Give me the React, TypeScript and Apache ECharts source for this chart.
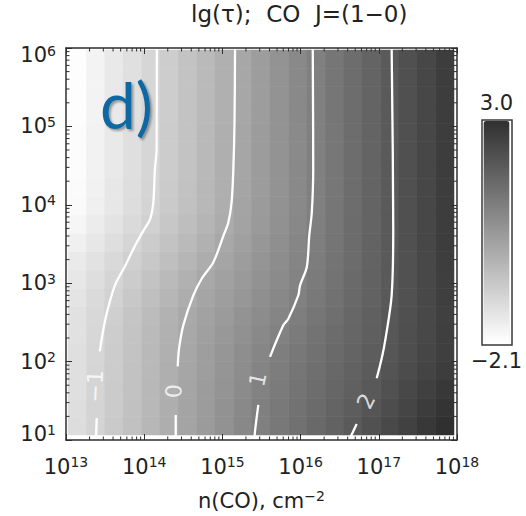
import React, { useEffect, useRef } from 'react';
import * as echarts from 'echarts';

// lg(tau) values, 21 columns (n(CO) 1e13 -> 1e18) per row; row 0 = lowest density (1e1)
const tauRows: number[][] = [
  [-1.27, -1.03, -0.80, -0.57, -0.33, -0.10, 0.13, 0.36, 0.59, 0.82, 1.04, 1.23, 1.41, 1.60, 1.78, 1.97, 2.18, 2.38, 2.59, 2.80, 3.00],
  [-1.28, -1.04, -0.81, -0.57, -0.34, -0.10, 0.13, 0.35, 0.58, 0.80, 1.02, 1.20, 1.37, 1.55, 1.72, 1.90, 2.09, 2.29, 2.49, 2.70, 2.90],
  [-1.30, -1.06, -0.83, -0.59, -0.36, -0.12, 0.11, 0.33, 0.54, 0.76, 0.98, 1.15, 1.32, 1.49, 1.66, 1.82, 1.99, 2.19, 2.40, 2.60, 2.80],
  [-1.31, -1.07, -0.84, -0.60, -0.37, -0.13, 0.09, 0.30, 0.51, 0.72, 0.93, 1.11, 1.28, 1.44, 1.61, 1.77, 1.94, 2.12, 2.31, 2.50, 2.69],
  [-1.31, -1.08, -0.85, -0.61, -0.38, -0.15, 0.07, 0.28, 0.48, 0.68, 0.88, 1.07, 1.23, 1.40, 1.56, 1.73, 1.90, 2.07, 2.26, 2.45, 2.64],
  [-1.35, -1.11, -0.88, -0.64, -0.40, -0.17, 0.05, 0.24, 0.43, 0.62, 0.80, 0.99, 1.16, 1.34, 1.51, 1.68, 1.85, 2.03, 2.23, 2.42, 2.62],
  [-1.37, -1.14, -0.91, -0.68, -0.45, -0.21, 0.01, 0.19, 0.37, 0.55, 0.73, 0.91, 1.09, 1.27, 1.46, 1.64, 1.82, 2.01, 2.21, 2.41, 2.61],
  [-1.43, -1.20, -0.98, -0.75, -0.52, -0.30, -0.07, 0.12, 0.30, 0.47, 0.65, 0.82, 1.00, 1.19, 1.39, 1.59, 1.78, 1.98, 2.19, 2.41, 2.62],
  [-1.50, -1.28, -1.06, -0.84, -0.62, -0.40, -0.18, 0.04, 0.22, 0.40, 0.58, 0.77, 0.95, 1.15, 1.36, 1.56, 1.77, 1.97, 2.19, 2.42, 2.64],
  [-1.59, -1.38, -1.17, -0.95, -0.74, -0.52, -0.31, -0.09, 0.11, 0.31, 0.50, 0.70, 0.90, 1.10, 1.32, 1.53, 1.75, 1.96, 2.19, 2.42, 2.65],
  [-1.73, -1.50, -1.28, -1.06, -0.84, -0.62, -0.40, -0.18, 0.04, 0.25, 0.45, 0.66, 0.87, 1.08, 1.30, 1.52, 1.74, 1.96, 2.20, 2.43, 2.67],
  [-1.87, -1.64, -1.41, -1.19, -0.96, -0.73, -0.51, -0.28, -0.05, 0.17, 0.39, 0.61, 0.84, 1.06, 1.28, 1.51, 1.73, 1.96, 2.20, 2.43, 2.67],
  [-1.97, -1.74, -1.50, -1.27, -1.04, -0.80, -0.57, -0.34, -0.10, 0.13, 0.36, 0.58, 0.81, 1.04, 1.27, 1.50, 1.73, 1.96, 2.20, 2.43, 2.67],
  [-1.99, -1.76, -1.52, -1.29, -1.06, -0.82, -0.59, -0.36, -0.12, 0.11, 0.34, 0.57, 0.80, 1.03, 1.26, 1.50, 1.73, 1.96, 2.20, 2.43, 2.67],
  [-2.02, -1.79, -1.55, -1.31, -1.08, -0.84, -0.61, -0.37, -0.13, 0.10, 0.33, 0.57, 0.80, 1.03, 1.26, 1.50, 1.73, 1.96, 2.20, 2.43, 2.67],
  [-2.03, -1.79, -1.56, -1.32, -1.09, -0.85, -0.62, -0.38, -0.14, 0.09, 0.33, 0.56, 0.79, 1.03, 1.26, 1.50, 1.73, 1.96, 2.20, 2.43, 2.67],
  [-2.03, -1.79, -1.56, -1.32, -1.09, -0.85, -0.62, -0.38, -0.14, 0.09, 0.33, 0.56, 0.79, 1.03, 1.26, 1.50, 1.73, 1.96, 2.20, 2.43, 2.67],
  [-2.04, -1.80, -1.57, -1.33, -1.10, -0.86, -0.63, -0.39, -0.15, 0.08, 0.32, 0.56, 0.80, 1.03, 1.27, 1.50, 1.73, 1.97, 2.21, 2.44, 2.68],
  [-2.04, -1.80, -1.57, -1.33, -1.10, -0.86, -0.63, -0.39, -0.15, 0.08, 0.32, 0.56, 0.80, 1.03, 1.27, 1.50, 1.73, 1.97, 2.21, 2.44, 2.68],
  [-2.04, -1.80, -1.57, -1.33, -1.10, -0.86, -0.63, -0.39, -0.15, 0.08, 0.32, 0.56, 0.80, 1.03, 1.27, 1.50, 1.73, 1.97, 2.21, 2.44, 2.68],
  [-2.05, -1.81, -1.57, -1.33, -1.10, -0.86, -0.63, -0.39, -0.15, 0.08, 0.32, 0.56, 0.80, 1.03, 1.27, 1.50, 1.73, 1.97, 2.21, 2.44, 2.68],
];

const colorbarMin = -2.1;
const colorbarMax = 3.0;
const colorbarTexts = ['3.0', '−2.1'];

// axis extents (powers of ten)
const xExpRange = [13, 18];
const yExpRange = [1, 6];

// contour lines [n(CO) cm^-2, density]
const contourM1Upper = [[1.45e14, 1e6], [1.44e14, 5.08e4], [1.37e14, 2.83e4], [1.31e14, 1.08e4], [1.19e14, 6.56e3], [9.7e13, 4.62e3], [7.6e13, 2.99e3], [5.7e13, 1.66e3], [4.2e13, 927], [3.2e13, 353], [2.7e13, 135]];
const contourM1Lower = [[2.47e13, 19], [2.42e13, 10]];
const contour0Upper = [[1.45e15, 1e6], [1.43e15, 1.22e5], [1.38e15, 2.83e4], [1.31e15, 1.07e4], [1.19e15, 5.96e3], [1.03e15, 4.03e3], [7.66e14, 1.85e3], [5.43e14, 1.14e3], [4.25e14, 698], [3.16e14, 290], [2.79e14, 147], [2.68e14, 86.9]];
const contour0Lower = [[2.53e14, 20.9], [2.53e14, 10]];
const contour1Upper = [[1.43e16, 1e6], [1.45e16, 2.83e4], [1.39e16, 7.98e3], [1.29e16, 4.03e3], [1.2e16, 1.61e3], [9.83e15, 935], [9.35e15, 698], [6.97e15, 353], [6.01e15, 290], [4.06e15, 115]];
const contour1Lower = [[2.88e15, 28.1], [2.61e15, 12.9], [2.57e15, 10]];
const contour2Upper = [[1.46e17, 1e6], [1.53e17, 4.9e3], [1.46e17, 698], [1.22e17, 197], [1.09e17, 110], [9.4e16, 61.2]];
const contour2Lower = [[5.21e16, 16], [4.29e16, 10.6], [4.16e16, 10]];

const contourLabelTexts = ['−1', '0', '1', '2'];
const contourLabelX = [2.35e13, 2.4e14, 2.85e15, 6.86e16];
const contourLabelY = [48.4, 41.9, 59.4, 31.3];
const contourLabelAngle = [88, 89, 78, 64];

const titleText = 'lg(τ);  CO  J=(1−0)';
const panelTag = 'd)';

const FONT = 'DejaVu Sans';
const TEXT = '#222';
const FRAME = '#2e2e2e';

export default function App() {
  const ref = useRef<HTMLDivElement>(null);
  useEffect(() => {
    if (!ref.current) return;
    const chart = echarts.init(ref.current, undefined, { renderer: 'svg' });

    const cells: number[][] = [];
    tauRows.forEach((row, j) => row.forEach((v, i) => cells.push([i, j, v])));
    const nCols = tauRows[0].length;
    const nRows = tauRows.length;

    const minorTicks: number[][] = [];
    for (let e = xExpRange[0]; e < xExpRange[1]; e++)
      for (let m = 2; m <= 9; m++) minorTicks.push([m * Math.pow(10, e), Math.pow(10, yExpRange[0]), 0]);
    for (let e = yExpRange[0]; e < yExpRange[1]; e++)
      for (let m = 2; m <= 9; m++) minorTicks.push([Math.pow(10, xExpRange[0]), m * Math.pow(10, e), 1]);

    const xMin = Math.pow(10, xExpRange[0]);
    const xMax = Math.pow(10, xExpRange[1]);
    const yMin = Math.pow(10, yExpRange[0]);
    const yMax = Math.pow(10, yExpRange[1]);

    const expOf = (v: number) => Math.round(Math.log10(v));
    const pow10 = (v: number) => `{b|10}{s|${expOf(v)}}`;
    const pow10y = (v: number) => {
      const e = expOf(v);
      if (e === yExpRange[1]) return `{bt|10}{st|${e}}`;
      if (e === yExpRange[0]) return `{bb|10}{sb|${e}}`;
      return `{b|10}{s|${e}}`;
    };
    const base = { fontFamily: FONT, color: TEXT };
    const rich = {
      b: { ...base, fontSize: 21 },
      s: { ...base, fontSize: 14, padding: [0, 0, 9, 0] },
      bt: { ...base, fontSize: 21, padding: [14, 0, 0, 0] },
      st: { ...base, fontSize: 14, padding: [14, 0, 9, 0] },
      bb: { ...base, fontSize: 21, padding: [0, 0, 12, 0] },
      sb: { ...base, fontSize: 14, padding: [0, 0, 21, 0] },
    };

    const logAxisBase = (pos: string, fmt: ((v: number) => string) | null, margin = 10) => ({
      type: 'log' as const,
      logBase: 10,
      gridIndex: 0,
      position: pos,
      z: 5,
      axisLine: { show: true, lineStyle: { color: FRAME, width: 1.5 } },
      axisTick: { show: true, inside: true, length: 6, lineStyle: { color: FRAME, width: 1 } },
      splitLine: { show: false },
      minorTick: { show: false },
      axisLabel: fmt ? { show: true, formatter: fmt, rich, margin } : { show: false },
    });

    const contourSeries = (data: number[][]) => ({
      type: 'line',
      xAxisIndex: 0,
      yAxisIndex: 0,
      data,
      symbol: 'none',
      smooth: 0.3,
      z: 3,
      silent: true,
      lineStyle: { color: '#ffffff', width: 2.3 },
    });

    chart.setOption({
      animation: false,
      backgroundColor: '#ffffff',
      grid: [
        { left: 66, top: 48, width: 391, height: 394, show: false },
        { left: 68, top: 50, width: 386, height: 385, show: false },
      ],
      xAxis: [
        {
          ...logAxisBase('bottom', pow10, 15),
          min: xMin,
          max: xMax,
          name: '{a|n(CO), cm}{s|−2}',
          nameLocation: 'middle',
          nameGap: 49,
          nameTextStyle: {
            rich: {
              a: { ...base, fontSize: 21 },
              s: { ...base, fontSize: 14, padding: [0, 0, 9, 0] },
            },
          },
        },
        { ...logAxisBase('top', null), min: xMin, max: xMax },
        {
          type: 'category',
          gridIndex: 1,
          data: Array.from({ length: nCols }, (_, i) => String(i)),
          show: false,
        },
      ],
      yAxis: [
        { ...logAxisBase('left', pow10y), min: yMin, max: yMax },
        { ...logAxisBase('right', null), min: yMin, max: yMax },
        {
          type: 'category',
          gridIndex: 1,
          data: Array.from({ length: nRows }, (_, i) => String(i)),
          show: false,
        },
      ],
      visualMap: {
        type: 'continuous',
        min: colorbarMin,
        max: colorbarMax,
        seriesIndex: 0,
        calculable: false,
        orient: 'vertical',
        left: 471,
        top: 92,
        padding: 0,
        itemWidth: 26,
        itemHeight: 221,
        text: colorbarTexts,
        textGap: 8,
        textStyle: { fontFamily: FONT, fontSize: 21, color: TEXT },
        inRange: { color: ['#ffffff', '#303030'] },
      },
      graphic: [
        {
          type: 'text',
          left: 191,
          top: 2,
          z: 100,
          style: {
            text: titleText,
            fontFamily: FONT,
            fontSize: 23,
            fill: TEXT,
          },
        },
        {
          type: 'rect',
          shape: { x: 482, y: 120, width: 30, height: 225 },
          style: { fill: 'none', stroke: '#3a3a3a', lineWidth: 1.5 },
          z: 100,
        },
        {
          type: 'text',
          left: 100,
          top: 72,
          z: 100,
          style: {
            text: panelTag,
            fontFamily: 'Lato',
            fontSize: 64,
            fill: '#0d67a3',
            textShadowColor: 'rgba(0,0,0,0.35)',
            textShadowOffsetX: 2,
            textShadowOffsetY: 2,
            textShadowBlur: 2,
          },
        },
      ],
      series: [
        {
          type: 'heatmap',
          xAxisIndex: 2,
          yAxisIndex: 2,
          data: cells,
          z: 1,
          silent: true,
          itemStyle: { borderWidth: 0 },
          emphasis: { disabled: true },
        },
        contourSeries(contourM1Upper),
        contourSeries(contourM1Lower),
        contourSeries(contour0Upper),
        contourSeries(contour0Lower),
        contourSeries(contour1Upper),
        contourSeries(contour1Lower),
        contourSeries(contour2Upper),
        contourSeries(contour2Lower),
        {
          type: 'scatter',
          xAxisIndex: 0,
          yAxisIndex: 0,
          symbolSize: 1,
          itemStyle: { color: 'rgba(0,0,0,0)' },
          silent: true,
          z: 4,
          data: contourLabelTexts.map((t, k) => ({
            name: t,
            value: [contourLabelX[k], contourLabelY[k]],
            label: { rotate: contourLabelAngle[k] },
          })),
          label: {
            show: true,
            position: 'inside',
            formatter: (p: any) => p.name,
            color: '#ffffff',
            fontFamily: FONT,
            fontSize: 22,
          },
        },
        {
          type: 'custom',
          xAxisIndex: 0,
          yAxisIndex: 0,
          z: 6,
          silent: true,
          data: minorTicks,
          renderItem: (params: any, api: any) => {
            const kind = api.value(2);
            const L = 3.5;
            const st = { stroke: FRAME, lineWidth: 1 };
            if (kind === 0) {
              const v = api.value(0);
              const b = api.coord([v, yMin]);
              const t = api.coord([v, yMax]);
              return {
                type: 'group',
                children: [
                  { type: 'line', shape: { x1: b[0], y1: b[1], x2: b[0], y2: b[1] - L }, style: st },
                  { type: 'line', shape: { x1: t[0], y1: t[1], x2: t[0], y2: t[1] + L }, style: st },
                ],
              };
            }
            const v = api.value(1);
            const l = api.coord([xMin, v]);
            const r = api.coord([xMax, v]);
            return {
              type: 'group',
              children: [
                { type: 'line', shape: { x1: l[0], y1: l[1], x2: l[0] + L, y2: l[1] }, style: st },
                { type: 'line', shape: { x1: r[0], y1: r[1], x2: r[0] - L, y2: r[1] }, style: st },
              ],
            };
          },
        },
      ],
    });

    return () => chart.dispose();
  }, []);

  return (
    <div
      ref={ref}
      style={{ position: 'fixed', left: 0, top: 0, width: 526, height: 516 }}
    />
  );
}
